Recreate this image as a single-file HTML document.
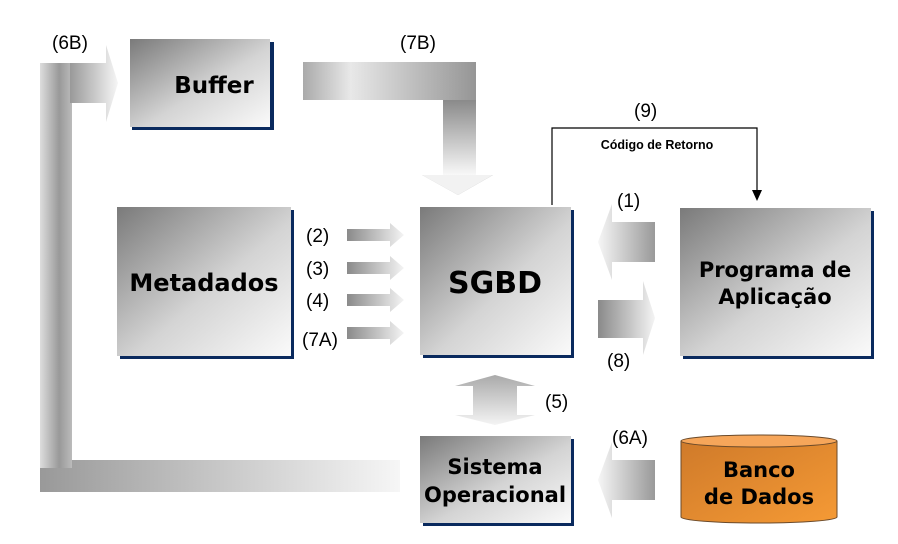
<!DOCTYPE html>
<html><head><meta charset="utf-8"><style>
body{margin:0;background:#fff;}
svg{display:block;font-family:"Liberation Sans",sans-serif;}
.b{font-weight:bold;fill:#000;font-family:"DejaVu Sans","Liberation Sans",sans-serif;}
.l{font-family:"Liberation Sans",sans-serif;font-size:19px;fill:#000;}
</style></head><body>
<svg width="898" height="544" viewBox="0 0 898 544">
<defs>
<linearGradient id="box" x1="0" y1="0" x2="1" y2="1"><stop offset="0" stop-color="#7a7a7a"/><stop offset="0.55" stop-color="#d4d4d4"/><stop offset="1" stop-color="#fafafa"/></linearGradient>
<linearGradient id="hr" x1="0" y1="0" x2="1" y2="0"><stop offset="0" stop-color="#8a8a8a"/><stop offset="1" stop-color="#f4f4f4"/></linearGradient>
<linearGradient id="hl" x1="1" y1="0" x2="0" y2="0"><stop offset="0" stop-color="#999"/><stop offset="1" stop-color="#f6f6f6"/></linearGradient>
<linearGradient id="vb" x1="0" y1="0" x2="1" y2="0"><stop offset="0" stop-color="#ddd"/><stop offset="0.6" stop-color="#999"/><stop offset="1" stop-color="#bbb"/></linearGradient>
<linearGradient id="hb" x1="0" y1="0" x2="1" y2="0"><stop offset="0" stop-color="#999"/><stop offset="1" stop-color="#f6f6f6"/></linearGradient>
<linearGradient id="b7" x1="0" y1="0" x2="1" y2="0"><stop offset="0" stop-color="#aaa"/><stop offset="0.25" stop-color="#e8e8e8"/><stop offset="1" stop-color="#8a8a8a"/></linearGradient>
<linearGradient id="d7" x1="0" y1="0" x2="0" y2="1"><stop offset="0" stop-color="#8a8a8a"/><stop offset="1" stop-color="#f8f8f8"/></linearGradient>
<linearGradient id="d5" x1="0" y1="0" x2="0" y2="1"><stop offset="0" stop-color="#aaa"/><stop offset="1" stop-color="#f4f4f4"/></linearGradient>
<linearGradient id="or" x1="0" y1="0" x2="1" y2="1"><stop offset="0" stop-color="#cf7a2a"/><stop offset="1" stop-color="#f59a35"/></linearGradient>
</defs>
<rect x="40" y="460" width="360" height="32" fill="url(#hb)"/>
<rect x="40" y="63" width="32" height="405" fill="url(#vb)"/>
<polygon points="70,63 106,63 106,45 118,83 106,122 106,103 70,103" fill="url(#hb)"/>
<polygon points="303,62 476,62 476,175 493,175 458,195 422,175 443,175 443,100 303,100" fill="url(#b7)"/>
<rect x="443" y="100" width="33" height="75" fill="url(#d7)"/>
<polygon points="422,175 493,175 458,195" fill="#f2f2f2"/>
<rect x="132" y="42" width="142" height="88" fill="#0a2a5e"/>
<rect x="130" y="39" width="140" height="88" fill="url(#box)"/>
<text x="214" y="93" class="b" font-size="23" text-anchor="middle">Buffer</text>
<rect x="120" y="210" width="174" height="149" fill="#0a2a5e"/>
<rect x="117" y="207" width="174" height="149" fill="url(#box)"/>
<text x="204" y="291" class="b" font-size="24" text-anchor="middle">Metadados</text>
<rect x="423" y="210" width="151" height="148" fill="#0a2a5e"/>
<rect x="420" y="207" width="151" height="148" fill="url(#box)"/>
<text x="495" y="293" class="b" font-size="30" text-anchor="middle">SGBD</text>
<rect x="683" y="211" width="191" height="148" fill="#0a2a5e"/>
<rect x="680" y="208" width="191" height="148" fill="url(#box)"/>
<text x="775" y="277" class="b" font-size="21" text-anchor="middle">Programa de</text>
<text x="775" y="304" class="b" font-size="21" text-anchor="middle">Aplicação</text>
<rect x="423" y="439" width="151" height="87" fill="#0a2a5e"/>
<rect x="420" y="436" width="151" height="87" fill="url(#box)"/>
<text x="495" y="474" class="b" font-size="21" text-anchor="middle">Sistema</text>
<text x="495" y="502" class="b" font-size="21" text-anchor="middle">Operacional</text>
<path d="M681,441 L681,517 A78,6 0 0 0 837,517 L837,441" fill="url(#or)" stroke="#6b4a2a" stroke-width="1"/>
<ellipse cx="759" cy="441" rx="78" ry="6" fill="#f6a65a" stroke="#6b4a2a" stroke-width="1"/>
<text x="759" y="477" class="b" font-size="21" text-anchor="middle">Banco</text>
<text x="759" y="504" class="b" font-size="21" text-anchor="middle">de Dados</text>
<g fill="url(#hr)">
<polygon points="347,229 390,229 390,223 404,235 390,247 390,241 347,241"/>
<polygon points="347,262 390,262 390,256 404,268 390,280 390,274 347,274"/>
<polygon points="347,294 390,294 390,288 404,300 390,312 390,306 347,306"/>
<polygon points="347,327 390,327 390,321 404,333 390,345 390,339 347,339"/>
</g>
<polygon points="655,222 612,222 612,204 598,242 612,280 612,262 655,262" fill="url(#hl)"/>
<polygon points="598,300 643,300 643,281 655,318 643,355 643,338 598,338" fill="url(#hr)"/>
<polygon points="655,460 612,460 612,442 598,480 612,518 612,500 655,500" fill="url(#hl)"/>
<polygon points="455,386 495,375 535,386 517,386 517,415 535,415 495,425 455,415 473,415 473,386" fill="url(#d5)"/>
<polyline points="552,205 552,128 757,128 757,195" fill="none" stroke="#000" stroke-width="1.2"/>
<polygon points="752,190 762,190 757,201" fill="#000"/>
<text x="657" y="149" font-size="12.5" font-weight="bold" text-anchor="middle">Código de Retorno</text>
<text x="52" y="49" class="l">(6B)</text>
<text x="400" y="49" class="l">(7B)</text>
<text x="634" y="117" class="l">(9)</text>
<text x="617" y="207" class="l">(1)</text>
<text x="306" y="242" class="l">(2)</text>
<text x="306" y="275" class="l">(3)</text>
<text x="306" y="307" class="l">(4)</text>
<text x="302" y="346" class="l">(7A)</text>
<text x="607" y="367" class="l">(8)</text>
<text x="545" y="408" class="l">(5)</text>
<text x="612" y="444" class="l">(6A)</text>
</svg>
</body></html>
